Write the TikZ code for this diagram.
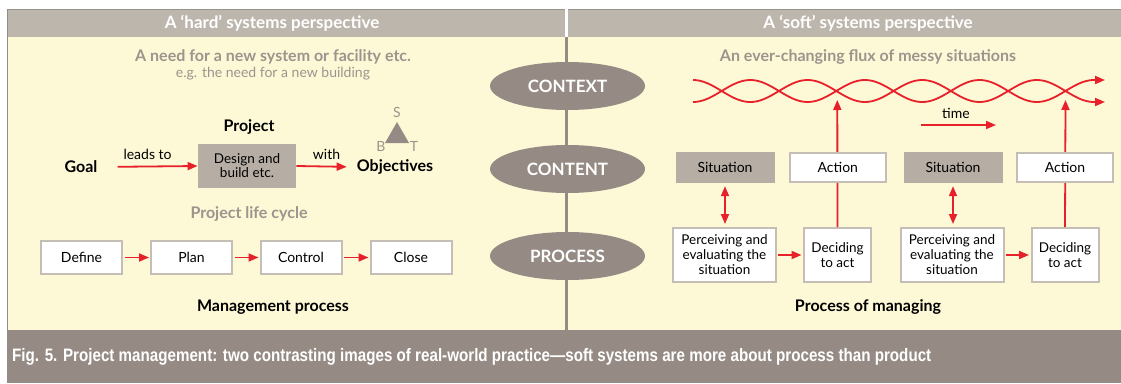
\documentclass[tikz,border=0pt]{standalone}
\usepackage{fontspec}
\setmainfont{Lato}
\newfontfamily\capfont[FakeStretch=0.843]{Liberation Sans}
\usetikzlibrary{arrows.meta,shapes.geometric}
\definecolor{cream}{HTML}{FDF8D6}
\definecolor{hdr}{HTML}{BDB6AD}
\definecolor{taupe}{HTML}{958B84}
\definecolor{grayfill}{HTML}{B6AEA5}
\definecolor{boxline}{HTML}{C5BEB6}
\definecolor{arrred}{HTML}{E8202A}
\definecolor{greytxt}{HTML}{9D948D}
\newcommand{\fs}[2]{\fontsize{#1}{#2}\selectfont}
\begin{document}
\begin{tikzpicture}[x=1pt,y=-1pt,
  whitebox/.style={draw=boxline, line width=2pt, fill=white, inner sep=0pt, align=center, font=\fs{13.5}{15}},
  graybox/.style={fill=grayfill, inner sep=0pt, align=center, font=\fs{13.5}{15}},
  redarrow/.style={draw=arrred, line width=1.8pt, -{Triangle[length=10pt,width=8pt]}},
  dblarrow/.style={draw=arrred, line width=1.8pt, {Triangle[length=10pt,width=8pt]}-{Triangle[length=10pt,width=8pt]}},
  ell/.style={ellipse, fill=taupe, minimum width=155pt, minimum height=48pt, inner sep=0pt, text=white, font=\bfseries\fs{17}{17}},
  hdrtext/.style={text=white, font=\bfseries\fs{17}{17}, inner sep=0pt},
  greyhead/.style={text=greytxt, font=\bfseries\fs{16}{16}, inner sep=0pt},
  blackhead/.style={text=black, font=\bfseries\fs{16}{16}, inner sep=0pt},
  plain/.style={text=black, font=\fs{14}{14}, inner sep=0pt},
  lifebox/.style={whitebox, font=\fs{14}{15}, minimum width=81pt, minimum height=33pt},
  sitbox/.style={graybox, font=\fs{14}{15}, minimum width=99pt, minimum height=31pt},
  actbox/.style={whitebox, font=\fs{14}{15}, minimum width=95.5pt, minimum height=29pt},
  percbox/.style={whitebox, minimum width=103pt, minimum height=54pt},
  decbox/.style={whitebox, minimum width=67pt, minimum height=54pt},
  braid/.style={draw=arrred, line width=1.8pt},
]
\useasboundingbox (0,0) rectangle (1121,383);
% backgrounds
\fill[white] (0,0) rectangle (1121,383);
\fill[cream] (7,37) rectangle (1121,330);
\fill[hdr] (7,9) rectangle (565,37);
\fill[hdr] (568,9) rectangle (1121,37);
\draw[color=hdr!80!black, line width=0.8pt] (7,9.4) -- (565,9.4) (568,9.4) -- (1121,9.4);
\fill[taupe] (7,330) rectangle (1121,383);
\draw[color=taupe, line width=1.2pt] (7.6,9) -- (7.6,330);
\draw[color=taupe, line width=2.5pt] (566.5,37) -- (566.5,330);

% headers
\node[hdrtext] (hh) at (272,23.5) {A ‘hard’ systems perspective};
\node[hdrtext] (sh) at (868,23.5) {A ‘soft’ systems perspective};

% centre ellipses
\node[ell] (ctx) at (567.5,86) {CONTEXT};
\node[ell] (cnt) at (567.5,169) {CONTENT};
\node[ell] (prc) at (567.5,256) {PROCESS};

% left: hard
\node[greyhead] (need) at (273,57) {A need for a new system or facility etc.};
\node[text=greytxt, font=\fs{14}{14}, inner sep=0pt] (eg) at (273,73.5) {e.g. the need for a new building};
\node[blackhead] (proj) at (249,127) {Project};
\node[blackhead] (goal) at (81,167) {Goal};
\node[graybox, minimum width=98.5pt, minimum height=44pt, font=\fs{13.5}{14}] (design) at (247,166) {Design and\\build etc.};
\node[blackhead] (obj) at (395,167) {Objectives};
\draw[redarrow, shorten <=20pt] (goal.east) -- node[plain, above=6pt] {leads to} (design.west);
\draw[redarrow, shorten >=10pt] (design.east) -- node[plain, above=6pt] {with} (obj.west);
\fill[taupe] (397,122) -- (409,143) -- (385,143) -- cycle;
\node[text=greytxt, font=\fs{14}{14}, inner sep=0pt] (ls) at (397,112) {S};
\node[text=greytxt, font=\fs{14}{14}, inner sep=0pt] (lb) at (381,146) {B};
\node[text=greytxt, font=\fs{14}{14}, inner sep=0pt] (lt) at (414,146) {T};

\node[greyhead] (plc) at (249,214) {Project life cycle};
\node[lifebox] (define) at (81.5,257.5) {Define};
\node[lifebox] (plan) at (191.5,257.5) {Plan};
\node[lifebox] (control) at (301,257.5) {Control};
\node[lifebox] (close) at (411,257.5) {Close};
\draw[redarrow, shorten <=1.5pt, shorten >=1pt] (define) -- (plan);
\draw[redarrow, shorten <=1.5pt, shorten >=1pt] (plan) -- (control);
\draw[redarrow, shorten <=1.5pt, shorten >=1pt] (control) -- (close);
\node[blackhead] (mp) at (273,307) {Management process};

% right: soft
\node[greyhead] (flux) at (868,57) {An ever-changing flux of messy situations};
\draw[braid, -{Triangle[length=10pt,width=8pt]}] plot[domain=693:1094, samples=160, smooth] (\x,{91-11*cos((\x-693)*3.14136)}) -- (1105,102);
\draw[braid, -{Triangle[length=10pt,width=8pt]}] plot[domain=693:1094, samples=160, smooth] (\x,{91+11*cos((\x-693)*3.14136)}) -- (1105,80);
\coordinate (t0) at (921,125);
\coordinate (t1) at (996,125);
\draw[redarrow] (t0) -- (t1);
\node[plain] (time) at (956,113) {time};

\coordinate (tip1) at (837.3,100);
\coordinate (tip2) at (1065.5,100);

\node[percbox] (perc1) at (724.5,255) {Perceiving and\\evaluating the\\situation};
\node[decbox] (dec1) at (837.5,255) {Deciding\\to act};
\node[percbox] (perc2) at (952,255) {Perceiving and\\evaluating the\\situation};
\node[decbox] (dec2) at (1065,255) {Deciding\\to act};
\draw[redarrow] (dec1.north) -- (tip1);
\draw[redarrow] (dec2.north) -- (tip2);
\node[sitbox] (sit1) at (725,167.5) {Situation};
\node[actbox] (act1) at (837.8,167.5) {Action};
\node[sitbox] (sit2) at (953,167.5) {Situation};
\node[actbox] (act2) at (1065,167.5) {Action};
\draw[dblarrow, shorten <=3pt, shorten >=3pt] (sit1) -- (sit1 |- perc1.north);
\draw[dblarrow, shorten <=3pt, shorten >=3pt] (sit2) -- (sit2 |- perc2.north);
\draw[redarrow, shorten <=1pt, shorten >=1.5pt] (perc1) -- (dec1);
\draw[redarrow, shorten <=1pt, shorten >=1.5pt] (perc2) -- (dec2);
\node[blackhead] (pm) at (868,307) {Process of managing};

% caption
\node[anchor=west, text=white, inner sep=0pt, font=\capfont\bfseries\fs{18}{18}] (cap) at (12,357) {Fig. 5. Project management: two contrasting images of real-world practice—soft systems are more about process than product};
\end{tikzpicture}
\end{document}
